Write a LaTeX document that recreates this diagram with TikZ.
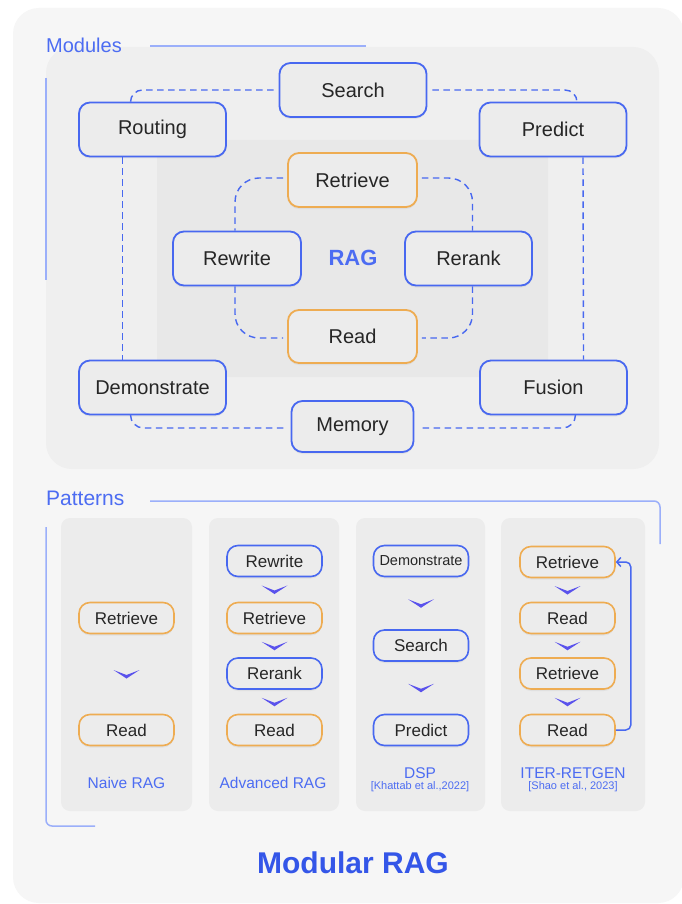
\documentclass[tikz,border=0pt]{standalone}
\usepackage{fontspec}
\setmainfont{Liberation Sans}
\usetikzlibrary{shadows,arrows.meta}
\definecolor{bluec}{RGB}{72,104,240}
\definecolor{orangec}{RGB}{238,172,82}
\definecolor{txtc}{RGB}{38,38,38}
\definecolor{labc}{RGB}{76,108,242}
\definecolor{titlec}{RGB}{52,86,232}
\definecolor{linec}{RGB}{155,175,250}
\definecolor{chevc}{RGB}{90,82,236}
\definecolor{outerbg}{RGB}{246,246,246}
\definecolor{modbg}{RGB}{239,239,239}
\definecolor{ragbg}{RGB}{232,232,232}
\definecolor{patbg}{RGB}{236,236,236}
\definecolor{boxfill}{RGB}{236,236,236}
\newcommand\mychev[2]{%
  \path (#1) -- (#2) coordinate[pos=0.5] (chevtmp);
  \fill[chevc] ([shift={(-13,-4)}]chevtmp) -- ([shift={(0,4.5)}]chevtmp) -- ([shift={(13,-4)}]chevtmp) -- ([shift={(0,1)}]chevtmp) -- cycle;}
\begin{document}
\begin{tikzpicture}[x=1pt,y=-1pt,
  modbox/.style={draw=bluec, line width=1.8pt, fill=boxfill, rounded corners=11pt,
    minimum width=147pt, minimum height=54pt, inner sep=0pt, text=txtc,
    font=\fontsize{20}{24}\selectfont,
    drop shadow={opacity=0.10, shadow xshift=0pt, shadow yshift=-2pt}},
  orbox/.style={modbox, draw=orangec},
  patbox/.style={draw=bluec, line width=1.6pt, fill=boxfill, rounded corners=11pt,
    minimum width=95pt, minimum height=31pt, inner sep=0pt, text=txtc,
    font=\fontsize{17}{20}\selectfont,
    drop shadow={opacity=0.10, shadow xshift=0pt, shadow yshift=-2pt}},
  patorange/.style={patbox, draw=orangec},
  dashc/.style={draw=bluec, line width=1.4pt, dash pattern=on 6.5pt off 4.5pt},
  deco/.style={draw=linec, line width=1.5pt},
  heading/.style={text=labc, font=\fontsize{20}{24}\selectfont, inner sep=0pt},
  patlabel/.style={text=labc, font=\fontsize{15.5}{18}\selectfont, inner sep=0pt},
  citelabel/.style={text=labc, font=\fontsize{11}{12}\selectfont, inner sep=0pt}
]
\useasboundingbox (0,0) rectangle (681,904);
\fill[white] (0,0) rectangle (681,904);
% panels
\fill[outerbg, rounded corners=26pt] (13,8) rectangle (684,903);
\fill[modbg, rounded corners=26pt] (46,47) rectangle (659,469);
\fill[ragbg, rounded corners=3pt] (157,140) rectangle (548,377);
\foreach \a/\b in {61/192, 209/339, 356/485, 501/645}
  \fill[patbg, rounded corners=9pt] (\a,518) rectangle (\b,811);

% headings and bracket lines
\node[heading, anchor=west] (modlab) at (46,45) {Modules};
\draw[deco] (150,46) -- (366,46);
\draw[deco] (46,78) -- (46,280);
\node[heading, anchor=west, font=\fontsize{21}{24}\selectfont] (patlab) at (46,498) {Patterns};
\draw[deco, rounded corners=6pt] (150,501) -- (660,501) -- (660,544);
\draw[deco, rounded corners=6pt] (46,527) -- (46,826) -- (95,826);

% module nodes
\node[modbox] (search) at (353,90) {Search};
\node[modbox] (routing) at (152.5,129.5) {Routing};
\node[modbox] (predict) at (553,129.5) {Predict};
\node[modbox] (demo) at (152.5,387.5) {Demonstrate};
\node[modbox] (fusion) at (553.5,387.5) {Fusion};
\node[modbox, minimum width=122pt, minimum height=51pt] (memory) at (352.5,426.5) {Memory};
\node[orbox, minimum width=129pt] (retrieve) at (352.5,180) {Retrieve};
\node[modbox, minimum width=128pt] (rewrite) at (237,258.5) {Rewrite};
\node[modbox, minimum width=127pt] (rerank) at (468.5,258.5) {Rerank};
\node[orbox, minimum width=129pt, minimum height=53pt] (read) at (352.5,336.5) {Read};
\node[text=labc, font=\fontsize{22}{26}\selectfont\bfseries, inner sep=0pt] (rag) at (353,258) {RAG};

% outer dashed ring
\draw[dashc, rounded corners=12pt] ([xshift=-5pt]search.west) -| ([xshift=-22pt]routing.north);
\draw[dashc, rounded corners=12pt] ([xshift=5pt]search.east) -| ([xshift=24pt]predict.north);
\draw[dashc] ([xshift=-30pt]routing.south) -- ([xshift=-30pt]demo.north);
\draw[dashc] ([xshift=30pt]predict.south) -- ([xshift=30pt]fusion.north);
\draw[dashc, rounded corners=13pt] ([xshift=-22pt]demo.south) |- ([xshift=-5pt,yshift=-1.5pt]memory.west);
\draw[dashc, rounded corners=13pt] ([xshift=22pt]fusion.south) |- ([xshift=5pt,yshift=-1.5pt]memory.east);
% inner dashed ring
\draw[dashc, rounded corners=24pt] ([xshift=-4pt,yshift=2pt]retrieve.west) -| ([xshift=-2pt]rewrite.north);
\draw[dashc, rounded corners=24pt] ([xshift=4pt,yshift=2pt]retrieve.east) -| ([xshift=4pt]rerank.north);
\draw[dashc, rounded corners=24pt] ([xshift=-2pt]rewrite.south) |- ([xshift=-4pt,yshift=-1.5pt]read.west);
\draw[dashc, rounded corners=24pt] ([xshift=4pt]rerank.south) |- ([xshift=4pt,yshift=-1.5pt]read.east);

% patterns: Naive RAG
\node[patorange] (n1) at (126.5,618) {Retrieve};
\node[patorange] (n2) at (126.5,730) {Read};
\mychev{n1}{n2}
\node[patlabel] (nlab) at (126.5,783) {Naive RAG};

% Advanced RAG
\node[patbox] (a1) at (274.5,561) {Rewrite};
\node[patorange] (a2) at (274.5,618) {Retrieve};
\node[patbox] (a3) at (274.5,673.5) {Rerank};
\node[patorange] (a4) at (274.5,730) {Read};
\mychev{a1}{a2}
\mychev{a2}{a3}
\mychev{a3}{a4}
\node[patlabel] (alab) at (273,783) {Advanced RAG};

% DSP
\node[patbox, font=\fontsize{14.5}{17}\selectfont] (d1) at (421,561) {Demonstrate};
\node[patbox] (d2) at (421,645.5) {Search};
\node[patbox] (d3) at (421,730) {Predict};
\mychev{d1}{d2}
\mychev{d2}{d3}
\node[patlabel] (dlab) at (420,773) {DSP};
\node[citelabel] (dcite) at (420,786.5) {[Khattab et al.,2022]};

% ITER-RETGEN
\node[patorange] (i1) at (567.5,562) {Retrieve};
\node[patorange] (i2) at (567.5,618) {Read};
\node[patorange] (i3) at (567.5,673.5) {Retrieve};
\node[patorange] (i4) at (567.5,730) {Read};
\mychev{i1}{i2}
\mychev{i2}{i3}
\mychev{i3}{i4}
\draw[bluec, line width=1.5pt, rounded corners=5pt, -{Straight Barb[length=4pt,width=9pt]}]
  (i4.east) -- ++(15,0) |- (i1.east);
\node[patlabel] (ilab) at (573,773) {ITER-RETGEN};
\node[citelabel] (icite) at (573,786.5) {[Shao et al., 2023]};

% title
\node[text=titlec, font=\fontsize{30}{34}\selectfont\bfseries, inner sep=0pt] (title) at (353,863) {Modular RAG};
\end{tikzpicture}
\end{document}
